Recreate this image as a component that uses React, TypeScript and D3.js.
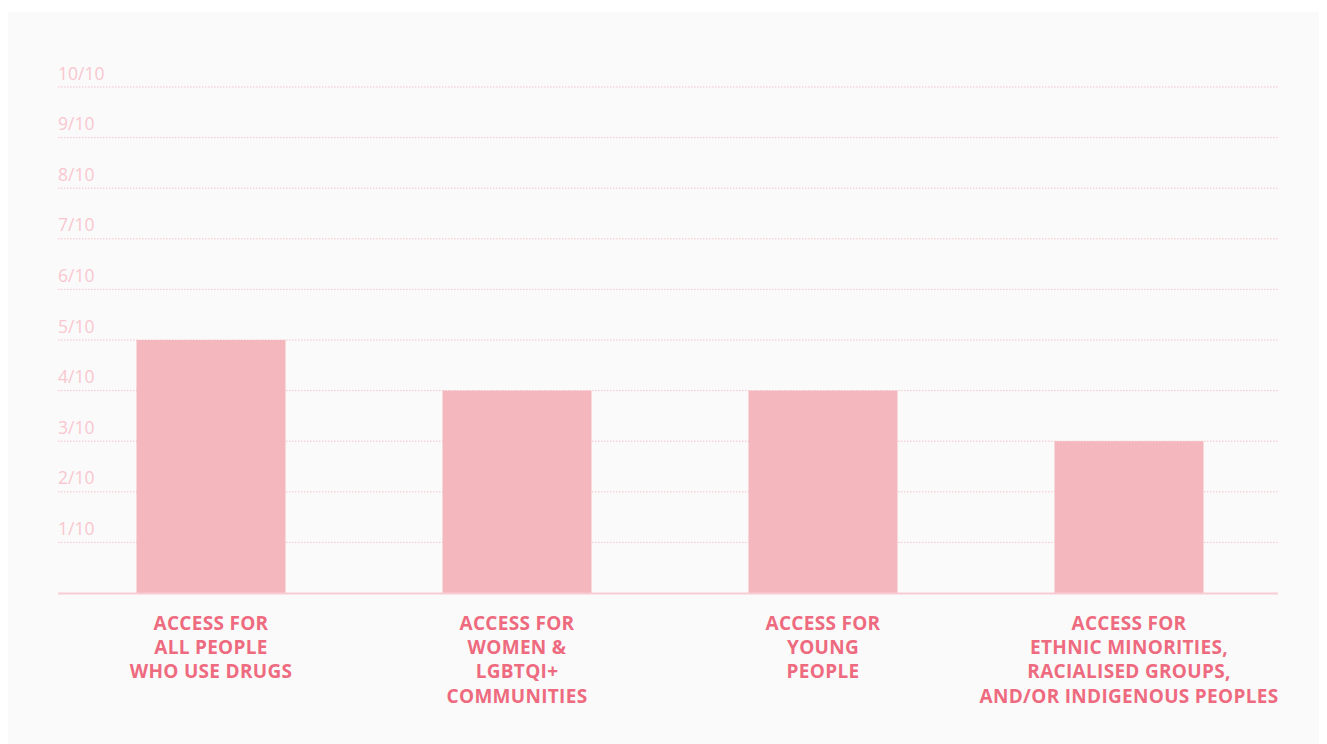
import React from "react";
import * as d3 from "d3";

const categories = [
  "all",
  "women",
  "young",
  "ethnic",
];
const labelLines = [
  ["ACCESS FOR", "ALL PEOPLE", "WHO USE DRUGS"],
  ["ACCESS FOR", "WOMEN &", "LGBTQI+", "COMMUNITIES"],
  ["ACCESS FOR", "YOUNG", "PEOPLE"],
  ["ACCESS FOR", "ETHNIC MINORITIES,", "RACIALISED GROUPS,", "AND/OR INDIGENOUS PEOPLES"],
];
const scores = [5, 4, 4, 3];
const ticks = [1, 2, 3, 4, 5, 6, 7, 8, 9, 10];

const W = 1327;
const H = 744;
const margin = { left: 58, right: 49, top: 87, bottom: 151 };

export default function App() {
  // band range a bit wider than the grid so the bars land where the original has them
  const x = d3
    .scaleBand<string>()
    .domain(categories)
    .range([margin.left, margin.left + 1224])
    .paddingInner(0.513)
    .paddingOuter(0.2565);
  const y = d3
    .scaleLinear()
    .domain([0, 10])
    .range([H - margin.bottom, margin.top]);

  const font = "'Open Sans', sans-serif";

  return (
    <svg
      width={W}
      height={H}
      style={{ position: "absolute", left: 0, top: 0, display: "block" }}
    >
      <rect x={0} y={0} width={W} height={H} fill="#ffffff" />
      <rect x={8} y={12} width={1311} height={H - 12} fill="#fafafa" />
      {/* gridlines + tick labels */}
      {ticks.map((t) => (
        <g key={t}>
          <line
            x1={margin.left}
            x2={W - margin.right}
            y1={y(t)}
            y2={y(t)}
            stroke="#f7c3cb"
            strokeWidth={1}
            strokeDasharray="1.5,1.5"
          />
          <text
            x={margin.left}
            y={y(t) - 7.5}
            fontFamily={font}
            fontSize={17.5}
            fill="#f9c7cf"
          >
            {`${t}/10`}
          </text>
        </g>
      ))}
      {/* bars */}
      {categories.map((c, i) => (
        <rect
          key={c}
          x={x(c)}
          y={y(scores[i])}
          width={x.bandwidth()}
          height={y(0) - y(scores[i])}
          fill="#f4b7be"
        />
      ))}
      {/* baseline */}
      <line
        x1={margin.left}
        x2={W - margin.right}
        y1={y(0) + 0.5}
        y2={y(0) + 0.5}
        stroke="#f9ccd3"
        strokeWidth={2}
      />
      {/* category labels */}
      {categories.map((c, i) => (
        <text
          key={c}
          x={(x(c) ?? 0) + x.bandwidth() / 2}
          y={y(0) + 36.5}
          textAnchor="middle"
          fontFamily={font}
          fontWeight="bold"
          fontSize={19}
          letterSpacing={0.3}
          fill="#ee6a7f"
        >
          {labelLines[i].map((line, j) => (
            <tspan key={j} x={(x(c) ?? 0) + x.bandwidth() / 2} dy={j === 0 ? 0 : 24.4}>
              {line}
            </tspan>
          ))}
        </text>
      ))}
    </svg>
  );
}
